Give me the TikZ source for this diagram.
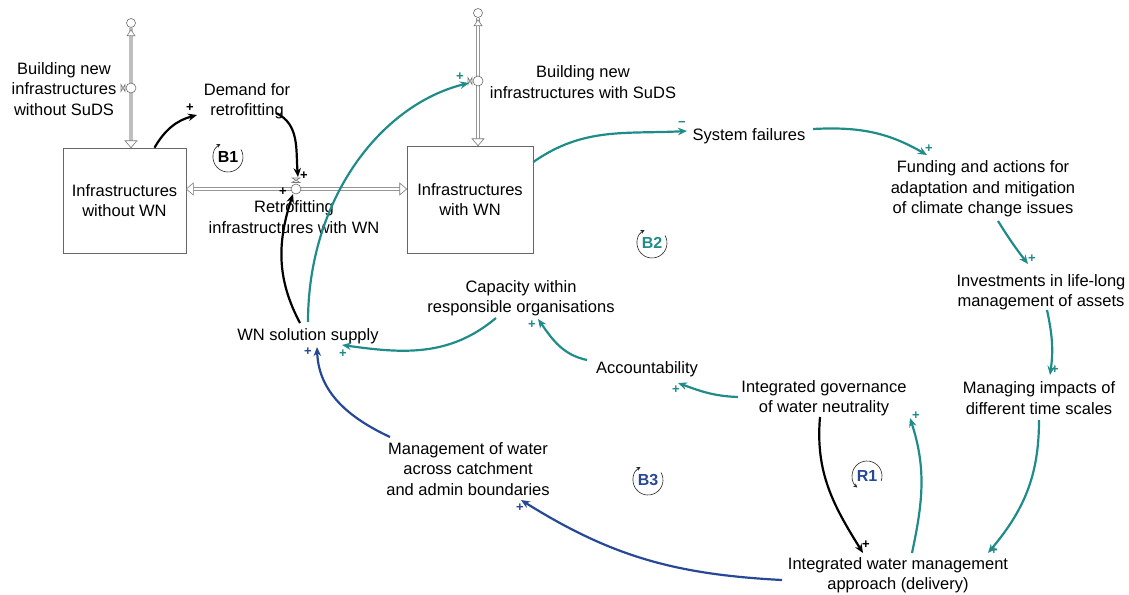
\documentclass[tikz,border=0pt]{standalone}
\usepackage{fontspec}
\setmainfont{Liberation Sans}
\usetikzlibrary{arrows.meta,calc}
\definecolor{teal1}{RGB}{32,140,137}
\definecolor{blue1}{RGB}{38,72,150}
\definecolor{pipec}{RGB}{150,150,150}
\begin{document}
\begin{tikzpicture}[x=1pt,y=1pt,
  lbl/.style={align=center, inner sep=0pt, font=\fontsize{16.5}{20.5}\selectfont},
  stock/.style={draw=gray!80!black, line width=0.6pt, inner sep=0pt, align=center, font=\fontsize{16.5}{20.5}\selectfont},
  lnk/.style={line width=2.2pt, -{Stealth[length=9pt,width=7.5pt]}},
  tl/.style={lnk, teal1},
  bl/.style={lnk, blue1},
  kl/.style={lnk, black},
  sgn/.style={inner sep=0pt, font=\bfseries\fontsize{13}{13}\selectfont},
  valve/.style={circle, draw=pipec!70!black, fill=white, line width=0.6pt, inner sep=0pt, minimum size=10pt},
  cloudn/.style={circle, draw=pipec!70!black, fill=white, line width=0.6pt, inner sep=0pt, minimum size=9pt},
  pipeA/.style={draw=black!25, line width=4pt},
  pipeB/.style={draw=pipec, double=white, double distance=2pt, line width=0.6pt},
  tri/.style={draw=pipec!80!black, fill=white, line width=0.6pt},
  looplbl/.style={inner sep=0pt, font=\bfseries\fontsize{16}{16}\selectfont},
  looparc/.style={draw=gray!30!black, line width=0.6pt, -{Stealth[length=4pt,width=4pt]}}
]
\useasboundingbox (0,0) rectangle (1129,-594);

% stocks
\node[stock, minimum width=123pt, minimum height=105pt] (s1) at (124.5,-200.5) {Infrastructures\\without WN};
\node[stock, minimum width=126pt, minimum height=107pt] (s2) at (470,-199.5) {Infrastructures\\with WN};

% clouds and valves
\node[cloudn] (c1) at (131,-23) {};
\node[cloudn] (c2) at (478,-13) {};
\coordinate (hl) at ([yshift=11.5pt]s1.east);
\coordinate (hr) at ([yshift=10.5pt]s2.west);

% pipes
\draw[pipeA] (c1.south) -- ([yshift=7pt]s1.north-|c1);
\draw[pipeB] (c2.south) -- ([yshift=7pt]s2.north-|c2);
\draw[pipeB] ([xshift=7pt]hl) -- ([xshift=-7pt]hr);
% pipe tips
\draw[tri] ($(s1.north-|c1)+(-6,7)$) -- ($(s1.north-|c1)+(6,7)$) -- (s1.north-|c1) -- cycle;
\draw[tri] ($(s2.north-|c2)+(-6,7)$) -- ($(s2.north-|c2)+(6,7)$) -- (s2.north-|c2) -- cycle;
\draw[tri] ($(hl)+(7,6)$) -- ($(hl)+(7,-6)$) -- (hl) -- cycle;
\draw[tri] ($(hr)+(-7,6)$) -- ($(hr)+(-7,-6)$) -- (hr) -- cycle;
\draw[tri] ($(c1.south)+(-4,-8)$) -- ($(c1.south)+(4,-8)$) -- ($(c1.south)+(0,-2)$) -- cycle;
\draw[tri] ($(c2.south)+(-4,-8)$) -- ($(c2.south)+(4,-8)$) -- ($(c2.south)+(0,-2)$) -- cycle;

\node[valve] (v1) at (131,-88) {};
\node[valve] (v2) at (478,-81) {};
\node[valve] (v3) at (296,-189) {};
\draw[tri] ($(v1)+(-10,3.5)$) -- ($(v1)+(-6,-3.5)$) -- ($(v1)+(-6,3.5)$) -- ($(v1)+(-10,-3.5)$) -- cycle;
\draw[tri] ($(v2)+(-10,3.5)$) -- ($(v2)+(-6,-3.5)$) -- ($(v2)+(-6,3.5)$) -- ($(v2)+(-10,-3.5)$) -- cycle;
\draw[tri] ($(v3)+(-4,11)$) -- ($(v3)+(4,6.5)$) -- ($(v3)+(-4,6.5)$) -- ($(v3)+(4,11)$) -- cycle;

% labels
\node[lbl] (bwo) at (64,-89) {Building new\\infrastructures\\without SuDS};
\node[lbl] (dem) at (247,-101) {Demand for\\retrofitting};
\node[lbl] (ret) at (294,-217) {Retrofitting\\infrastructures with WN};
\node[lbl] (bws) at (583,-82) {Building new\\infrastructures with SuDS};
\node[lbl] (sf) at (749,-136) {System failures};
\node[lbl] (fund) at (983,-189) {Funding and actions for\\adaptation and mitigation\\of climate change issues};
\node[lbl] (inv) at (1041,-292) {Investments in life-long\\management of assets};
\node[lbl] (mng) at (1039,-398) {Managing impacts of\\different time scales};
\node[lbl] (gov) at (824,-398) {Integrated governance\\of water neutrality};
\node[lbl] (iwm) at (898,-575) {Integrated water management\\approach (delivery)};
\node[lbl] (acc) at (647,-369) {Accountability};
\node[lbl] (cap) at (521,-298) {Capacity within\\responsible organisations};
\node[lbl] (sup) at (308,-336) {WN solution supply};
\node[lbl] (mgw) at (468,-469) {Management of water\\across catchment\\and admin boundaries};

% links
\draw[kl] ([xshift=30pt]s1.north) to[out=60,in=195] ($(dem)+(-50,-14)$);
\draw[kl] ($(dem)+(29,-12)$) to[out=-25,in=95] ($(v3)+(2,12)$);
\draw[kl] ($(sup)+(-8,13)$) to[out=118,in=252] ($(v3)+(-3,-5)$);
\draw[tl] ($(sup)+(0,14)$) .. controls (308,-200) and (380,-105) .. ($(v2)+(-9,-2)$);
\draw[tl] ([yshift=37.5pt]s2.east) to[out=35,in=183] ($(sf)+(-62,5)$);
\draw[tl] ($(sf)+(64,7)$) to[out=3,in=150] ($(fund)+(-56,34)$);
\draw[tl] ($(fund)+(15,-32)$) to[out=-58,in=128] ($(inv)+(-13,28)$);
\draw[tl] ($(inv)+(6,-18)$) to[out=-78,in=82] ($(mng)+(11,23)$);
\draw[tl] ($(mng)+(0,-22)$) to[out=-90,in=50] ($(iwm)+(90,22)$);
\draw[kl] ($(gov)+(-4,-19)$) to[out=-95,in=122] ($(iwm)+(-35,22)$);
\draw[tl] ($(iwm)+(14,22)$) to[out=78,in=-72] ($(gov)+(86,-20)$);
\draw[tl] ($(gov)+(-86,1)$) to[out=178,in=-20] ($(acc)+(31,-14)$);
\draw[tl] ($(acc)+(-60,9)$) to[out=168,in=-55] ($(cap)+(17,-21)$);
\draw[tl] ($(cap)+(-25,-20)$) to[out=-140,in=-8] ($(sup)+(34,-9)$);
\draw[bl] ($(iwm)+(-116,-5)$) to[out=177,in=-32] ($(mgw)+(53,-31)$);
\draw[bl] ($(mgw)+(-78,32)$) to[out=155,in=-88] ($(sup)+(9,-11)$);

% signs
\node[sgn] (p1) at (190,-108) {+};
\node[sgn] (p2) at (304,-176) {+};
\node[sgn] (p3) at (283,-192) {+};
\node[sgn, text=teal1] (p4) at (460,-77) {+};
\node[sgn, text=teal1] (p5) at (682,-124) {\textminus};
\node[sgn, text=teal1] (p6) at (929,-149) {+};
\node[sgn, text=teal1] (p7) at (1032,-259) {+};
\node[sgn, text=teal1] (p8) at (1055,-370) {+};
\node[sgn, text=teal1] (p9) at (994,-551) {+};
\node[sgn] (p10) at (866,-545) {+};
\node[sgn, text=teal1] (p11) at (916,-416) {+};
\node[sgn, text=teal1] (p12) at (676,-390) {+};
\node[sgn, text=teal1] (p13) at (532,-325) {+};
\node[sgn, text=teal1] (p14) at (343,-354) {+};
\node[sgn, text=blue1] (p15) at (520,-508) {+};
\node[sgn, text=blue1] (p16) at (308,-352) {+};

% loops
\node[looplbl] (b1) at (228,-157) {B1};
\draw[looparc] ([shift={(30:15)}]b1.center) arc[start angle=30, end angle=-240, radius=15];
\node[looplbl, text=teal1] (b2) at (652,-243) {B2};
\draw[looparc] ([shift={(30:15)}]b2.center) arc[start angle=30, end angle=-240, radius=15];
\node[looplbl, text=blue1] (b3) at (648,-480) {B3};
\draw[looparc] ([shift={(30:15)}]b3.center) arc[start angle=30, end angle=-240, radius=15];
\node[looplbl, text=blue1] (r1) at (867,-476) {R1};
\draw[looparc] ([shift={(-20:15)}]r1.center) arc[start angle=-20, end angle=230, radius=15];
\end{tikzpicture}
\end{document}
